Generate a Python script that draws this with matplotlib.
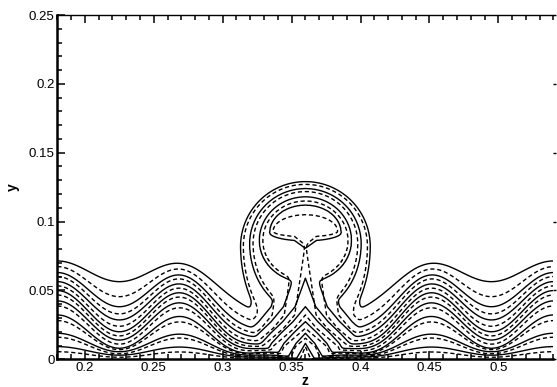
import numpy as np
import matplotlib
matplotlib.use("Agg")
import matplotlib.pyplot as plt
from matplotlib.ticker import MultipleLocator, FuncFormatter, NullLocator

plt.rcParams['font.family'] = ['Liberation Sans', 'DejaVu Sans']

# domain of the plot
z_lo, z_hi = 0.18, 0.54
y_lo, y_hi = 0.0, 0.25
z_plume = 0.36
wave_length = 0.09

# layer heights at the crest z=0.18 and at the trough z=0.225, top layer first
solid_crest = [0.0714, 0.0630, 0.0564, 0.0499, 0.0424, 0.0322, 0.0189, 0.0092]
solid_trough = [0.0564, 0.0382, 0.0286, 0.0200, 0.0140, 0.0080, 0.0055, 0.0030]
dashed_crest = [0.0673, 0.0601, 0.0533, 0.0467, 0.0387, 0.0281, 0.0160, 0.0055]
dashed_trough = [0.0455, 0.0330, 0.0240, 0.0170, 0.0110, 0.0070, 0.0040, 0.0015]

# height reached by each layer inside the stem at z=0.36
solid_cusp = [0.100, 0.092, 0.084, 0.0589, 0.0382, 0.0273, 0.0189, 0.0116]
dashed_cusp = [0.100, 0.094, 0.088, 0.084, 0.0322, 0.0225, 0.0153, 0.0092]

# mushroom cap rings for layers 1..4: half width, top, centre, bottom, notch depth
solid_ring_half = [0.047, 0.0405, 0.0335, 0.026]
solid_ring_top = [0.129, 0.124, 0.118, 0.112]
solid_ring_mid = [0.082, 0.084, 0.086, 0.092]
solid_ring_bottom = [0.012, 0.034, 0.056, 0.086]
solid_ring_notch = [0.0, 0.0, 0.0, 0.0054]

dashed_ring_half = [0.045, 0.038, 0.031, 0.0235]
dashed_ring_top = [0.127, 0.1218, 0.115, 0.105]
dashed_ring_mid = [0.082, 0.084, 0.086, 0.093]
dashed_ring_bottom = [0.014, 0.036, 0.058, 0.089]
dashed_ring_notch = [0.0, 0.0, 0.0, 0.006]

# layers are pushed down on both sides of the stem, the low ones hardest
squeeze_level = [0.0, 0.03, 0.07]
squeeze_amount = [0.95, 0.90, 0.63]
squeeze_width = 0.05
stem_spread = 0.9
blend = 0.0012


def layer_levels(crest, trough):
    crest = np.asarray(crest)
    trough = np.asarray(trough)
    return (crest + trough) / 2, (crest - trough) / 2


def stratified(z, y, levels, amps):
    order = np.argsort(levels)
    lv = levels[order]
    am = amps[order]
    lv_k = np.concatenate([[-0.01, 0.0], lv, [lv[-1] + 0.03, 1.0]])
    am_k = np.concatenate([[0.0, 0.0], am, [0.0, 0.0]])
    fine = np.linspace(-0.01, 1.0, 5000)
    amp = np.interp(fine, lv_k, am_k)
    beta = np.interp(fine, squeeze_level, squeeze_amount)
    wave = np.cos(2 * np.pi * (z - z_lo) / wave_length)
    gauss = np.exp(-((z - z_plume) / squeeze_width) ** 2)
    field = np.empty((len(y), len(z)))
    for j in range(len(z)):
        ycol = (fine + amp * wave[j]) * (1 - beta * gauss[j])
        field[:, j] = np.interp(y, ycol, fine)
    return field


def stem(zz, yy, levels, cusp):
    order = np.argsort(levels)
    lv = levels[order]
    tips = np.asarray(cusp)[order]
    knots_y = np.concatenate([[0.0], tips, [tips[-1] + 0.015, 0.3]])
    knots_q = np.concatenate([[0.0], lv, [lv[-1] + 0.03, 0.6]])
    q = np.interp(yy, knots_y, knots_q)
    return q + stem_spread * np.abs(zz - z_plume)


def ring_excess(zz, yy, half, top, mid, bottom, notch):
    dz = np.abs(zz - z_plume)
    below = (mid - bottom) + notch * np.clip(1 - dz / 0.008, 0, None)
    ay = np.where(yy >= mid, top - mid, below)
    return np.hypot(dz / half, (yy - mid) / ay) - 1


def cap(zz, yy, levels, half, top, mid, bottom, notch):
    d = [ring_excess(zz, yy, *r) for r in zip(half, top, mid, bottom, notch)]
    n = len(d)
    field = levels[n - 1] + 0.005 * d[n - 1]
    for i in range(n - 1, 0, -1):
        out = d[i] >= 0
        frac = d[i] / (d[i] - d[i - 1] + 1e-12)
        val = levels[i] + (levels[i - 1] - levels[i]) * frac
        field = np.where(out, val, field)
    field = np.where(d[0] >= 0, levels[0] + 0.05 * d[0], field)
    return field


def concentration(z, y, crest, trough, cusp, half, top, mid, bottom, notch):
    levels, amps = layer_levels(crest, trough)
    zz, yy = np.meshgrid(z, y)
    s = stratified(z, y, levels, amps)
    k_stem = stem(zz, yy, levels, cusp)
    k_cap = cap(zz, yy, levels[:len(half)], half, top, mid, bottom, notch)
    c = -blend * np.logaddexp(np.logaddexp(-s / blend, -k_stem / blend), -k_cap / blend)
    return c, np.sort(levels)


z = np.linspace(z_lo, z_hi, 901)
y = np.linspace(y_lo, 0.16, 641)

c_solid, lv_solid = concentration(z, y, solid_crest, solid_trough, solid_cusp,
                                  solid_ring_half, solid_ring_top, solid_ring_mid,
                                  solid_ring_bottom, solid_ring_notch)
c_dashed, lv_dashed = concentration(z, y, dashed_crest, dashed_trough, dashed_cusp,
                                    dashed_ring_half, dashed_ring_top, dashed_ring_mid,
                                    dashed_ring_bottom, dashed_ring_notch)

fig = plt.figure(figsize=(5.57, 3.87), dpi=100)
ax = fig.add_axes([0.1029, 0.0716, 0.8908, 0.8896])

ax.contour(z, y, c_solid, levels=lv_solid, colors='k', linewidths=1.0,
           linestyles='solid')
ax.contour(z, y, c_dashed, levels=lv_dashed, colors='k', linewidths=1.0,
           linestyles=[(0, (3, 2))])

ax.set_xlim(z_lo, z_hi)
ax.set_ylim(y_lo, y_hi)

fmt = FuncFormatter(lambda v, p: f"{v:g}")
ax.xaxis.set_major_locator(MultipleLocator(0.05))
ax.xaxis.set_minor_locator(MultipleLocator(0.01))
ax.yaxis.set_major_locator(MultipleLocator(0.05))
ax.yaxis.set_minor_locator(MultipleLocator(0.01))
ax.xaxis.set_major_formatter(fmt)
ax.yaxis.set_major_formatter(fmt)

ax.tick_params(which='both', direction='in', top=True, bottom=True, left=True,
               right=False, width=1.1, labelsize=9.5, pad=2)
ax.tick_params(which='major', length=6)
ax.tick_params(which='minor', length=3.6)

for side in ['left', 'bottom']:
    ax.spines[side].set_linewidth(1.8)
ax.spines['top'].set_linewidth(1.0)
ax.spines['right'].set_visible(False)

# short stubs on the open right edge
right = ax.secondary_yaxis('right')
right.spines['right'].set_visible(False)
right.yaxis.set_major_locator(MultipleLocator(0.05))
right.yaxis.set_minor_locator(NullLocator())
right.tick_params(direction='out', length=2.5, width=1.0, labelright=False)

ax.set_xlabel('z', fontsize=10, fontweight='bold', labelpad=0)
ax.set_ylabel('y', fontsize=10, fontweight='bold', labelpad=6)

fig.savefig('out.png', dpi=100)
